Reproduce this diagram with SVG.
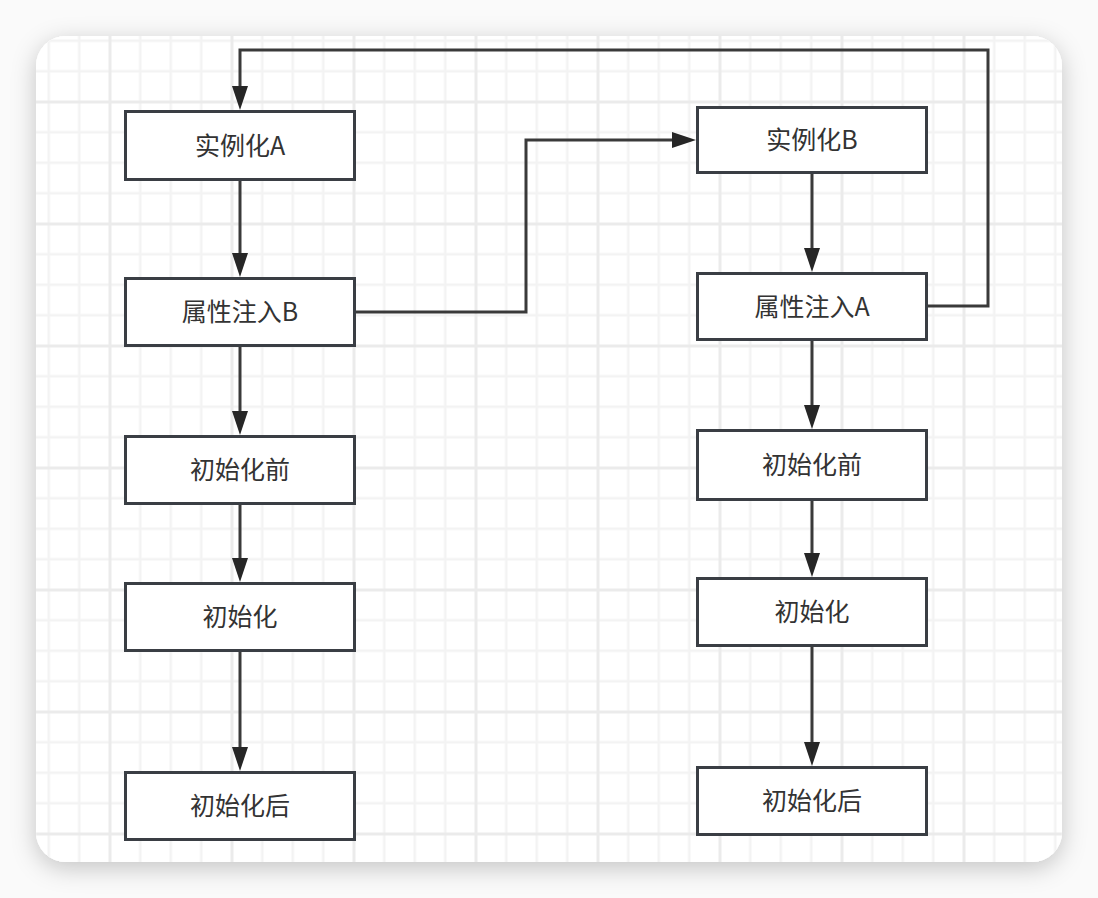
<svg xmlns="http://www.w3.org/2000/svg" width="1098" height="898" viewBox="0 0 1098 898">
  <defs>
    <style>
      .box { fill: #ffffff; stroke: #3a3e44; stroke-width: 3; }
      .lbl { font-family: "Noto Sans CJK SC", "Noto Sans", sans-serif; font-size: 25px; fill: #333333; text-anchor: middle; }
      .edge { fill: none; stroke: #3a3a3a; stroke-width: 3; marker-end: url(#arrow); }
    </style>
    <marker id="arrow" viewBox="0 0 24 16" markerWidth="24" markerHeight="16" refX="2" refY="8" orient="auto" markerUnits="userSpaceOnUse">
      <path d="M0,0 L24,8 L0,16 Z" fill="#262626"/>
    </marker>
    <pattern id="grid" patternUnits="userSpaceOnUse" x="108.5" y="100.5" width="122" height="122">
      <rect x="0" y="0" width="122" height="122" fill="#ffffff"/>
      <rect x="30.5" y="0" width="2.5" height="122" fill="#f3f3f3"/>
      <rect x="61" y="0" width="2.5" height="122" fill="#f3f3f3"/>
      <rect x="91.5" y="0" width="2.5" height="122" fill="#f3f3f3"/>
      <rect x="0" y="30.5" width="122" height="2.5" fill="#f3f3f3"/>
      <rect x="0" y="61" width="122" height="2.5" fill="#f3f3f3"/>
      <rect x="0" y="91.5" width="122" height="2.5" fill="#f3f3f3"/>
      <rect x="0" y="0" width="3" height="122" fill="#ebebeb"/>
      <rect x="0" y="0" width="122" height="3" fill="#ebebeb"/>
    </pattern>
    <filter id="shadow" x="-10%" y="-10%" width="120%" height="120%">
      <feDropShadow dx="0" dy="6" stdDeviation="12" flood-color="#000000" flood-opacity="0.22"/>
    </filter>
  </defs>

  <rect x="0" y="0" width="1098" height="898" fill="#fafafa"/>
  <rect id="card" x="36" y="36" width="1026" height="826" rx="30" ry="30" fill="#ffffff" filter="url(#shadow)"/>
  <rect x="36" y="36" width="1026" height="826" rx="30" ry="30" fill="url(#grid)"/>

  <g id="connectors">
    <path class="edge" d="M240,181 V255"/>
    <path class="edge" d="M240,347 V413"/>
    <path class="edge" d="M240,505 V560"/>
    <path class="edge" d="M240,652 V749"/>
    <path class="edge" d="M812,174 V250"/>
    <path class="edge" d="M812,341 V407"/>
    <path class="edge" d="M812,501 V555"/>
    <path class="edge" d="M812,647 V744"/>
    <path class="edge" d="M356,312 H526 V140 H674"/>
    <path class="edge" d="M928,306 H988 V50 H240 V88"/>
  </g>

  <g id="node-a-instantiate">
    <rect class="box" x="125.5" y="111.5" width="229" height="68"/>
    <text class="lbl" x="240" y="154.5">实例化A</text>
  </g>
  <g id="node-a-inject">
    <rect class="box" x="125.5" y="278.5" width="229" height="67"/>
    <text class="lbl" x="240" y="321">属性注入B</text>
  </g>
  <g id="node-a-preinit">
    <rect class="box" x="125.5" y="436.5" width="229" height="67"/>
    <text class="lbl" x="240" y="479">初始化前</text>
  </g>
  <g id="node-a-init">
    <rect class="box" x="125.5" y="583.5" width="229" height="67"/>
    <text class="lbl" x="240" y="626">初始化</text>
  </g>
  <g id="node-a-postinit">
    <rect class="box" x="125.5" y="772.5" width="229" height="67"/>
    <text class="lbl" x="240" y="815">初始化后</text>
  </g>

  <g id="node-b-instantiate">
    <rect class="box" x="697.5" y="107.5" width="229" height="65"/>
    <text class="lbl" x="812" y="149">实例化B</text>
  </g>
  <g id="node-b-inject">
    <rect class="box" x="697.5" y="273.5" width="229" height="66"/>
    <text class="lbl" x="812" y="315.5">属性注入A</text>
  </g>
  <g id="node-b-preinit">
    <rect class="box" x="697.5" y="430.5" width="229" height="69"/>
    <text class="lbl" x="812" y="474">初始化前</text>
  </g>
  <g id="node-b-init">
    <rect class="box" x="697.5" y="578.5" width="229" height="67"/>
    <text class="lbl" x="812" y="621">初始化</text>
  </g>
  <g id="node-b-postinit">
    <rect class="box" x="697.5" y="767.5" width="229" height="67"/>
    <text class="lbl" x="812" y="810">初始化后</text>
  </g>
</svg>
